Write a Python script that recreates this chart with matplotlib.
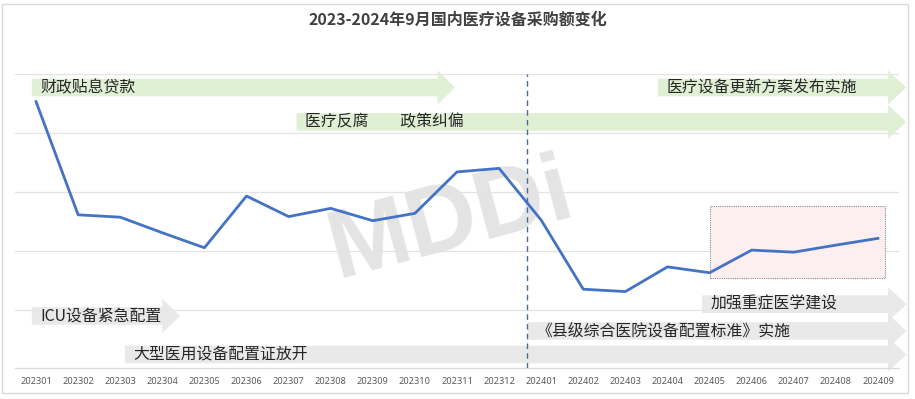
import matplotlib.pyplot as plt
from matplotlib.patches import FancyArrow, Rectangle
import numpy as np

plt.rcParams['font.family'] = ['Noto Sans CJK SC', 'DejaVu Sans']

# monthly data (relative purchase amount)
months = ['202301', '202302', '202303', '202304', '202305', '202306', '202307',
          '202308', '202309', '202310', '202311', '202312', '202401', '202402',
          '202403', '202404', '202405', '202406', '202407', '202408', '202409']
amount = [90.7, 52.2, 51.4, 46.1, 41.0, 58.6, 51.6, 54.4, 50.2, 52.7, 66.8,
          68.0, 50.4, 26.9, 26.1, 34.5, 32.5, 40.2, 39.5, 41.9, 44.2]

# policy arrows: label, start / head base / tip (category index), centre level, colour
policies = [
    ('财政贴息贷款', -0.10, 9.54, 9.95, 95.5, 'green'),
    ('医疗反腐\u3000\u3000政策纠偏', 6.19, 20.24, 20.67, 83.8, 'green'),
    ('医疗设备更新方案发布实施', 14.77, 20.24, 20.67, 95.5, 'green'),
    ('ICU设备紧急配置', -0.10, 3.0, 3.42, 17.8, 'gray'),
    ('大型医用设备配置证放开', 2.11, 20.24, 20.68, 4.7, 'gray'),
    ('《县级综合医院设备配置标准》实施', 11.69, 20.24, 20.68, 12.7, 'gray'),
    ('加强重症医学建设', 15.82, 20.24, 20.68, 21.8, 'gray'),
]
colours = {'green': '#DDEFD0', 'gray': '#E7E7E7'}

fig = plt.figure(figsize=(9.15, 3.99), dpi=100)
ax = fig.add_axes([15 / 915, (399 - 368.3) / 399, 884 / 915, 294 / 399])

x = np.arange(len(months))
ax.set_xlim(-0.5, len(months) - 0.5)
ax.set_ylim(0, 100)
ax.set_yticks(np.arange(0, 101, 20))
ax.yaxis.grid(True, color='#E3E3E3', lw=0.9)
ax.set_axisbelow(True)
ax.tick_params(axis='y', left=False, labelleft=False)
ax.tick_params(axis='x', length=0, pad=6, labelsize=6.6, labelcolor='#595959')
ax.set_xticks(x)
ax.set_xticklabels(months, family='Noto Sans')
for s in ['top', 'left', 'right']:
    ax.spines[s].set_visible(False)
ax.spines['bottom'].set_color('#D9D9D9')

# watermark
ax.text(9.85, 50, 'MDDi', fontsize=70, fontweight='bold', family='Liberation Sans',
        color='#E4E4E4', rotation=15, ha='center', va='center', zorder=0.5)

# arrows
for label, x0, xb, xt, yc, c in policies:
    w = 6.0
    hw = 11.6
    arr = FancyArrow(x0, yc, xt - x0, 0, width=w, head_width=hw, head_length=xt - xb,
                     length_includes_head=True, color=colours[c], lw=0, alpha=0.9,
                     clip_on=False, zorder=1)
    ax.add_patch(arr)
    ax.text(x0 + 0.2, yc, label, fontsize=11.4, color='#262626', va='center', ha='left',
            zorder=3, clip_on=False)

# highlight box
ax.add_patch(Rectangle((16.02, 30.8), 4.15, 24.5, facecolor='#FDEFEF', edgecolor='#8C8C8C',
                       lw=0.8, ls=(0, (1, 1)), zorder=1.5))

# dashed separator
ax.axvline(11.67, color='#4A6A9A', lw=1.0, ls=(0, (4, 3)), zorder=2)

ax.plot(x, amount, color='#4472C4', lw=2, zorder=4)

fig.text(0.5, 1 - 20 / 399, '2023-2024年9月国内医疗设备采购额变化', ha='center', va='center',
         fontsize=11.5, fontweight='bold', color='#404040')

fig.patches.append(Rectangle((2 / 915, 6 / 399), 906 / 915, 389 / 399, transform=fig.transFigure,
                             fill=False, edgecolor='#D9D9D9', lw=1))

fig.savefig('out.png', dpi=100)
